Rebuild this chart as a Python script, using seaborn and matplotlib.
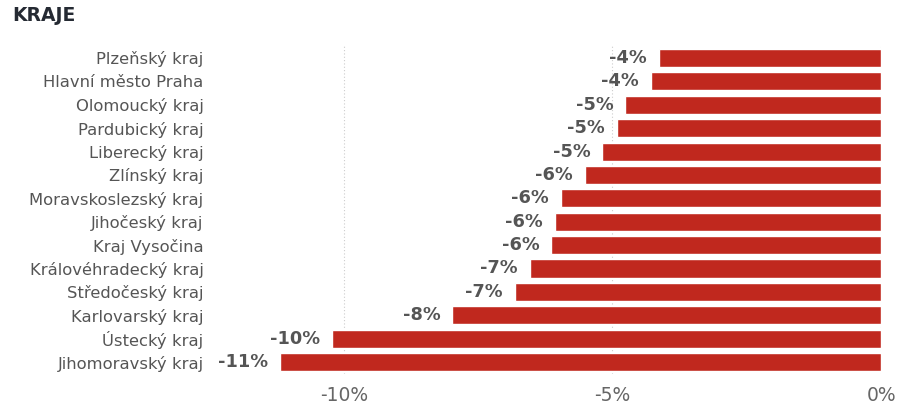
import matplotlib.pyplot as plt
import matplotlib.ticker as mticker
import pandas as pd
import seaborn as sns

regions = ["Plzeňský kraj", "Hlavní město Praha", "Olomoucký kraj", "Pardubický kraj",
           "Liberecký kraj", "Zlínský kraj", "Moravskoslezský kraj", "Jihočeský kraj",
           "Kraj Vysočina", "Královéhradecký kraj", "Středočeský kraj", "Karlovarský kraj",
           "Ústecký kraj", "Jihomoravský kraj"]
change = [-4.14, -4.29, -4.76, -4.92, -5.19, -5.52, -5.96, -6.07,
          -6.14, -6.54, -6.82, -7.98, -10.22, -11.18]
x_ticks = [-10, -5, 0]

df = pd.DataFrame({"region": regions, "change": change})

sns.set_style("white")
plt.rcParams['font.family'] = ['DejaVu Sans']

fig = plt.figure(figsize=(9.02, 4.13), dpi=100)
ax = fig.add_axes([0.238, 0.095, 0.739, 0.793])

sns.barplot(data=df, x="change", y="region", color="#C0281E", width=0.77,
            saturation=1, ax=ax, zorder=3)

for p, v in zip(ax.patches, change):
    y = p.get_y() + p.get_height() / 2
    ax.text(v - 0.22, y, f"{round(v):.0f}%", ha="right", va="center",
            fontsize=12.8, fontweight="bold", color="#555555")

ax.set_xlim(-12.4, 0.0)
ax.set_xticks(x_ticks)
ax.xaxis.set_major_formatter(mticker.FuncFormatter(lambda v, _: f"{v:.0f}%"))
ax.tick_params(axis="x", labelsize=13.5, colors="#666666", length=0, pad=9)
ax.tick_params(axis="y", labelsize=11.8, colors="#555555", length=0, pad=8)
ax.grid(axis="x", linestyle=(0, (1, 2)), color="#cccccc", linewidth=0.8, zorder=0)
ax.set_xlabel("")
ax.set_ylabel("")
for s in ax.spines.values():
    s.set_visible(False)

fig.text(0.014, 0.962, "KRAJE", fontsize=13.5, fontweight="bold", color="#252A33",
         va="center", ha="left")

fig.savefig("out.png", dpi=100)
